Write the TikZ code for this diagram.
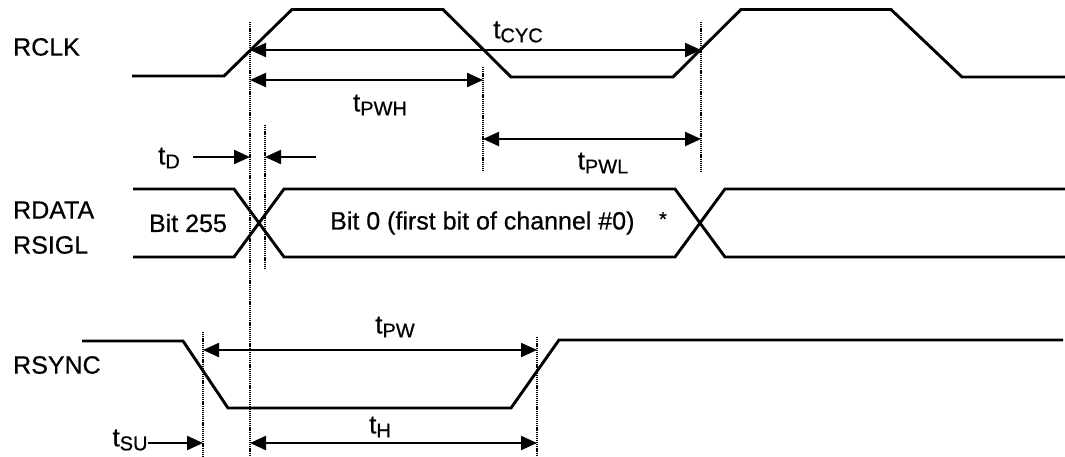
\documentclass[tikz,border=0pt]{standalone}
\usepackage{fontspec}
\setmainfont{Liberation Sans}[FakeBold=0.6]
\usetikzlibrary{arrows.meta}
\newcommand{\tsub}[1]{{\fontsize{26}{30}\selectfont t}\raisebox{-4pt}{\fontsize{20}{24}\selectfont #1}}
\begin{document}
\begin{tikzpicture}[x=1pt,y=-1pt,
  sig/.style={line width=2.9pt, line join=miter},
  dimone/.style={line width=2.2pt, -{Triangle[length=16pt,width=14pt]}},
  dimtwo/.style={line width=2.2pt, {Triangle[length=16pt,width=14pt]}-{Triangle[length=16pt,width=14pt]}},
  guide/.style={line width=1.5pt, dash pattern=on 1.2pt off 0.9pt},
  lbl/.style={font=\fontsize{25}{30}\selectfont, inner sep=0pt},
  tlbl/.style={inner sep=0pt}]
\useasboundingbox (0,0) rectangle (1065,456);

% signal names
\node[lbl, anchor=west] (nrclk) at (13,47) {RCLK};
\node[lbl, anchor=west] (nrdata) at (13,210) {RDATA};
\node[lbl, anchor=west] (nrsigl) at (13,245) {RSIGL};
\node[lbl, anchor=west] (nrsync) at (13,365) {RSYNC};

% RCLK waveform
\draw[sig] (132,76) -- (224,76) -- (292,9.5) -- (443,9.5) -- (511,77) -- (673,77) -- (741,9.5) -- (891,9.5) -- (962,77) -- (1065,77);

% RDATA / RSIGL bus
\draw[sig] (133,189) -- (234,189) -- (284,257) -- (675,257) -- (725,189) -- (1065,189);
\draw[sig] (133,257) -- (234,257) -- (284,189) -- (675,189) -- (725,257) -- (1065,257);
\node[lbl] (b255) at (188,223) {Bit 255};
\node[lbl, anchor=west] (b0) at (330,223) {Bit 0 (first bit of channel \#0)};
\node[inner sep=0pt, font=\fontsize{20}{24}\selectfont] (star) at (663,219) {*};

% RSYNC waveform
\draw[sig] (82,341) -- (183,341) -- (228,408) -- (511,408) -- (559,340) -- (1063,340);

% guide lines
\coordinate (g1t) at (250,22);  \coordinate (g1b) at (250,456);
\coordinate (g2t) at (265,125); \coordinate (g2b) at (265,268);
\coordinate (g3t) at (483,67);  \coordinate (g3b) at (483,172);
\coordinate (g4t) at (701,22);  \coordinate (g4b) at (701,173);
\coordinate (g5t) at (203,332); \coordinate (g5b) at (203,456);
\coordinate (g6t) at (537,337); \coordinate (g6b) at (537,456);
\foreach \g in {1,...,6} \draw[guide] (g\g t) -- (g\g b);

% dimension arrows
\coordinate (cycL) at (250,50);  \coordinate (cycR) at (701,50);
\draw[dimtwo] (cycL) -- (cycR);
\node[tlbl] (tcyc) at (518,32) {\tsub{CYC}};

\coordinate (pwhL) at (250,80);  \coordinate (pwhR) at (483,80);
\draw[dimtwo] (pwhL) -- (pwhR);
\node[tlbl] (tpwh) at (380,105) {\tsub{PWH}};

\coordinate (pwlL) at (483,139); \coordinate (pwlR) at (701,139);
\draw[dimtwo] (pwlL) -- (pwlR);
\node[tlbl] (tpwl) at (603,163) {\tsub{PWL}};

\node[tlbl] (td) at (169,158) {\tsub{D}};
\coordinate (tdA) at (193,157); \coordinate (tdB) at (250,157);
\coordinate (tdC) at (316,157); \coordinate (tdD) at (265,157);
\draw[dimone] (tdA) -- (tdB);
\draw[dimone] (tdC) -- (tdD);

\coordinate (pwL) at (203,350); \coordinate (pwR) at (537,350);
\draw[dimtwo] (pwL) -- (pwR);
\node[tlbl] (tpw) at (395,327) {\tsub{PW}};

\coordinate (hL) at (250,443); \coordinate (hR) at (537,443);
\draw[dimtwo] (hL) -- (hR);
\node[tlbl] (th) at (380,427) {\tsub{H}};

\node[tlbl] (tsu) at (130,440) {\tsub{SU}};
\coordinate (suR) at (203,443);
\draw[dimone] (tsu.east |- suR) -- (suR);
\end{tikzpicture}
\end{document}
